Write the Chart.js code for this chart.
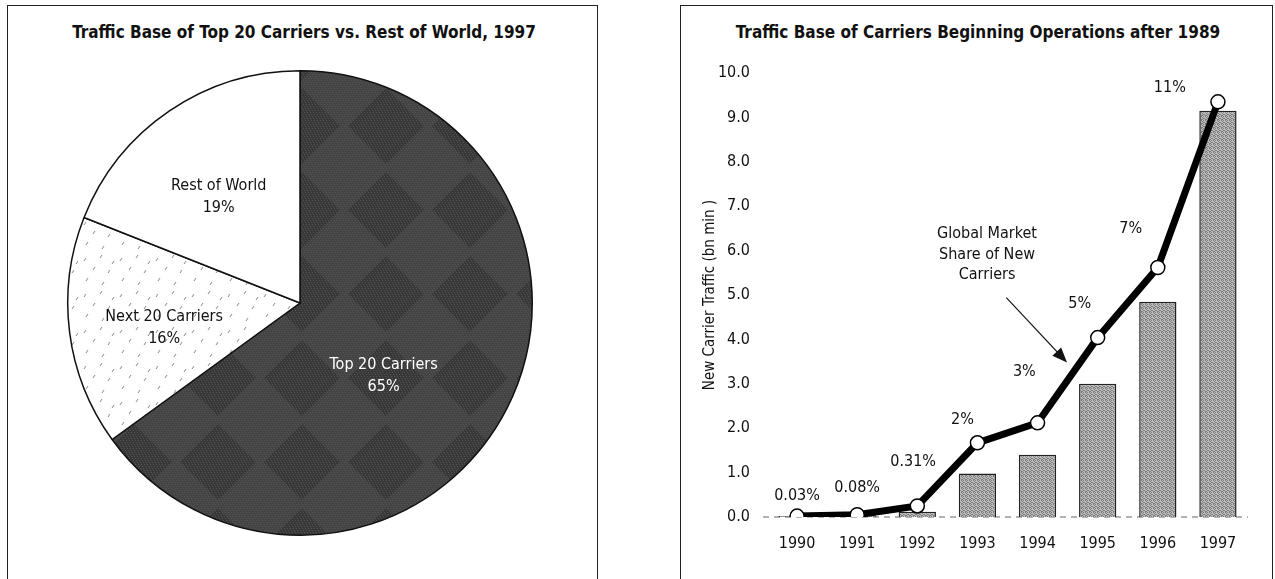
<!DOCTYPE html>
<html lang="en">
<head>
  <meta charset="UTF-8">
  <title>Traffic Base of Carriers</title>
  <script src="https://cdn.jsdelivr.net/npm/chart.js"></script>
  <style>
    body {
      margin: 0;
      width: 1275px;
      height: 579px;
      position: relative;
      overflow: hidden;
      background: #fff;
      font-family: 'Liberation Sans Narrow', 'DejaVu Sans Condensed', sans-serif;
      color: #111;
    }
    .frame {
      position: absolute;
      top: 5px;
      height: 590px;
      border: 1.5px solid #222;
      border-bottom: none;
      box-sizing: border-box;
    }
    #leftFrame { left: 7px; width: 591px; }
    #rightFrame { left: 680px; width: 593px; }
    .title {
      position: absolute;
      top: 22px;
      font-weight: bold;
      font-size: 17px;
      white-space: nowrap;
      transform: translateX(-50%);
    }
    .box { position: absolute; top: 0; height: 579px; }
    #pieBox { left: 8px; width: 588px; }
    #barBox { left: 681px; width: 590px; }
  </style>
</head>
<body>
  <div class="frame" id="leftFrame"></div>
  <div class="frame" id="rightFrame"></div>
  <div class="title" style="left:304px">Traffic Base of Top 20 Carriers vs. Rest of World, 1997</div>
  <div class="title" style="left:978px">Traffic Base of Carriers Beginning Operations after 1989</div>
  <div class="box" id="pieBox"><canvas id="pieChart"></canvas></div>
  <div class="box" id="barBox"><canvas id="barChart"></canvas></div>

  <script>
    // pie data
    const pieLabels = ['Top 20 Carriers', 'Next 20 Carriers', 'Rest of World'];
    const pieShares = [65, 16, 19];

    // bar + line data
    const years = ['1990', '1991', '1992', '1993', '1994', '1995', '1996', '1997'];
    const traffic = [0.02, 0.04, 0.12, 0.98, 1.4, 3.0, 4.85, 9.15];
    const marketLine = [0.02, 0.05, 0.25, 1.67, 2.12, 4.04, 5.62, 9.35];
    const shareLabels = ['0.03%', '0.08%', '0.31%', '2%', '3%', '5%', '7%', '11%'];
    const yTickLabels = ['0.0', '1.0', '2.0', '3.0', '4.0', '5.0', '6.0', '7.0', '8.0', '9.0', '10.0'];

    // where the text sits (pie: fraction of radius from centre; bars: category offset / value)
    const pieLabelSpots = [[0.36, 0.313], [-0.585, 0.107], [-0.35, -0.455]];
    const shareLabelSpots = [[0, 0.47], [0, 0.65], [-0.07, 1.24], [-0.25, 2.19], [-0.22, 3.27], [-0.3, 4.79], [-0.45, 6.48], [-0.8, 9.66]];

    const FONT = "'Liberation Sans Narrow', 'DejaVu Sans Condensed', sans-serif";

    // fill patterns
    function makePattern(size, draw) {
      const c = document.createElement('canvas');
      c.width = c.height = size;
      const g = c.getContext('2d');
      draw(g, size);
      return g.createPattern(c, 'repeat');
    }

    const darkFill = makePattern(84, (g, s) => {
      g.fillStyle = '#444';
      g.fillRect(0, 0, s, s);
      g.fillStyle = '#383838';
      g.beginPath();
      g.moveTo(s / 2, 4); g.lineTo(s - 4, s / 2); g.lineTo(s / 2, s - 4); g.lineTo(4, s / 2);
      g.closePath();
      g.fill();
      g.fillStyle = '#555';
      for (let y = 0; y < s; y += 2) {
        for (let x = (y / 2) % 3; x < s; x += 3) g.fillRect(x, y, 1, 1);
      }
    });

    const speckleFill = makePattern(36, (g, s) => {
      g.fillStyle = '#fff';
      g.fillRect(0, 0, s, s);
      g.strokeStyle = '#888';
      g.lineWidth = 1;
      [[4, 6], [20, 3], [13, 15], [28, 18], [6, 26], [22, 30], [32, 9]].forEach(([x, y]) => {
        g.beginPath(); g.moveTo(x, y + 3); g.lineTo(x + 2, y); g.stroke();
      });
    });

    const barFill = makePattern(4, (g) => {
      g.fillStyle = '#bcbcbc';
      g.fillRect(0, 0, 4, 4);
      g.fillStyle = '#7c7c7c';
      [[0, 0], [2, 0], [1, 1], [3, 2], [0, 3], [2, 2], [1, 3]].forEach(([x, y]) => g.fillRect(x, y, 1, 1));
    });

    // pie labels
    const pieText = {
      id: 'pieText',
      afterDatasetsDraw(chart) {
        const ctx = chart.ctx;
        const arc = chart.getDatasetMeta(0).data[0];
        const r = arc.outerRadius;
        ctx.save();
        ctx.font = '16px ' + FONT;
        ctx.textAlign = 'center';
        ctx.textBaseline = 'middle';
        pieLabels.forEach((name, i) => {
          const x = arc.x + pieLabelSpots[i][0] * r;
          const y = arc.y + pieLabelSpots[i][1] * r;
          ctx.fillStyle = i === 0 ? '#fff' : '#111';
          ctx.fillText(name, x, y - 11);
          ctx.fillText(pieShares[i] + '%', x, y + 11);
        });
        ctx.restore();
      }
    };

    new Chart(document.getElementById('pieChart'), {
      type: 'pie',
      data: {
        labels: pieLabels,
        datasets: [{
          data: pieShares,
          backgroundColor: [darkFill, speckleFill, '#fff'],
          borderColor: '#111',
          borderWidth: 1.5
        }]
      },
      options: {
        responsive: true,
        maintainAspectRatio: false,
        animation: false,
        events: [],
        layout: { padding: { left: 59, right: 63, top: 70, bottom: 43 } },
        plugins: { legend: { display: false }, tooltip: { enabled: false } }
      },
      plugins: [pieText]
    });

    // dashed zero line, share labels and the arrow note
    const barNotes = {
      id: 'barNotes',
      beforeDatasetsDraw(chart) {
        const { ctx, chartArea, scales } = chart;
        const y0 = scales.y.getPixelForValue(0);
        ctx.save();
        ctx.setLineDash([6, 5]);
        ctx.strokeStyle = '#666';
        ctx.lineWidth = 1;
        ctx.beginPath();
        ctx.moveTo(chartArea.left - 4, y0);
        ctx.lineTo(chartArea.right, y0);
        ctx.stroke();
        ctx.restore();
      },
      afterDatasetsDraw(chart) {
        const { ctx, scales: { x, y } } = chart;
        ctx.save();
        ctx.font = '16px ' + FONT;
        ctx.fillStyle = '#111';
        ctx.textAlign = 'center';
        ctx.textBaseline = 'middle';
        shareLabels.forEach((t, i) => {
          const [dx, v] = shareLabelSpots[i];
          ctx.fillText(t, x.getPixelForValue(i + dx), y.getPixelForValue(v));
        });

        const noteX = x.getPixelForValue(3.16);
        ['Global Market', 'Share of New', 'Carriers'].forEach((t, i) => {
          ctx.fillText(t, noteX, y.getPixelForValue(6.37) + i * 20.5);
        });

        const x1 = x.getPixelForValue(3.48), y1 = y.getPixelForValue(4.94);
        const x2 = x.getPixelForValue(4.49), y2 = y.getPixelForValue(3.48);
        const ang = Math.atan2(y2 - y1, x2 - x1);
        ctx.strokeStyle = '#111';
        ctx.lineWidth = 1.2;
        ctx.beginPath();
        ctx.moveTo(x1, y1);
        ctx.lineTo(x2 - 10 * Math.cos(ang), y2 - 10 * Math.sin(ang));
        ctx.stroke();
        ctx.beginPath();
        ctx.moveTo(x2, y2);
        ctx.lineTo(x2 - 15 * Math.cos(ang) + 6 * Math.sin(ang), y2 - 15 * Math.sin(ang) - 6 * Math.cos(ang));
        ctx.lineTo(x2 - 15 * Math.cos(ang) - 6 * Math.sin(ang), y2 - 15 * Math.sin(ang) + 6 * Math.cos(ang));
        ctx.closePath();
        ctx.fill();
        ctx.restore();
      }
    };

    new Chart(document.getElementById('barChart'), {
      data: {
        labels: years,
        datasets: [
          {
            type: 'line',
            data: marketLine,
            borderColor: '#000',
            borderWidth: 7,
            tension: 0,
            pointRadius: 7,
            pointBackgroundColor: '#fff',
            pointBorderColor: '#000',
            pointBorderWidth: 1.5,
            order: 0
          },
          {
            type: 'bar',
            data: traffic,
            backgroundColor: barFill,
            borderColor: '#222',
            borderWidth: 1.5,
            categoryPercentage: 1,
            barPercentage: 0.62,
            order: 1
          }
        ]
      },
      options: {
        responsive: true,
        maintainAspectRatio: false,
        animation: false,
        events: [],
        layout: { padding: { left: 0, right: 23, top: 73, bottom: 22 } },
        plugins: { legend: { display: false }, tooltip: { enabled: false } },
        scales: {
          x: {
            grid: { display: false },
            border: { display: false },
            ticks: { color: '#111', font: { family: FONT, size: 16 }, padding: 9 },
            afterFit: s => { s.height = 40; }
          },
          y: {
            min: 0,
            max: 10,
            grid: { display: false },
            border: { display: false },
            ticks: {
              stepSize: 1,
              color: '#111',
              font: { family: FONT, size: 16 },
              padding: 9,
              callback: (v, i) => yTickLabels[i]
            },
            title: {
              display: true,
              text: 'New Carrier Traffic (bn min )',
              color: '#111',
              font: { family: FONT, size: 15 },
              padding: { top: 20, bottom: 0 }
            },
            afterFit: s => { s.width = 86; }
          }
        }
      },
      plugins: [barNotes]
    });
  </script>
</body>
</html>
